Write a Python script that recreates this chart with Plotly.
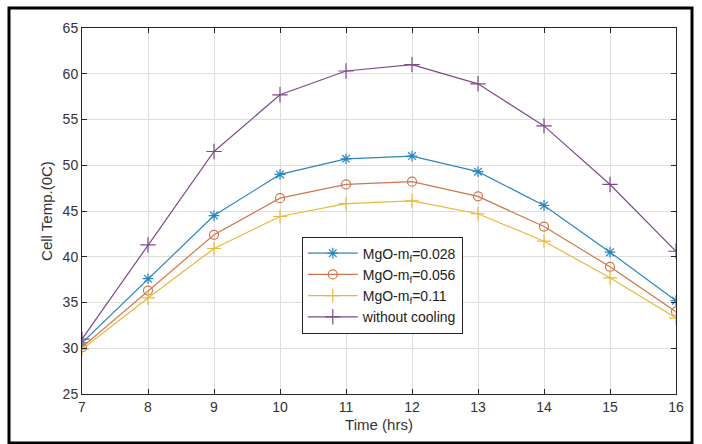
import plotly.graph_objects as go

# Hours of the day
hours = [7, 8, 9, 10, 11, 12, 13, 14, 15, 16]

# Cell temperature (°C) for each case
mgo_0028 = [30.6, 37.6, 44.5, 49.0, 50.7, 51.0, 49.3, 45.6, 40.5, 35.2]
mgo_0056 = [30.1, 36.3, 42.4, 46.4, 47.9, 48.2, 46.6, 43.3, 38.9, 34.0]
mgo_011 = [29.9, 35.5, 40.9, 44.4, 45.8, 46.1, 44.7, 41.7, 37.7, 33.3]
no_cooling = [31.0, 41.3, 51.5, 57.7, 60.3, 61.0, 58.9, 54.3, 47.9, 40.6]

series_names = [
    "MgO-m<sub>f</sub>=0.028",
    "MgO-m<sub>f</sub>=0.056",
    "MgO-m<sub>f</sub>=0.11",
    "without cooling",
]
series_values = [mgo_0028, mgo_0056, mgo_011, no_cooling]
series_colors = ["#2b86c2", "#cf7650", "#e9b939", "#7d4a8c"]
series_symbols = ["asterisk-open", "circle-open", "cross-thin-open", "cross-thin-open"]
series_sizes = [9, 9, 10, 11]

y_ticks = [25, 30, 35, 40, 45, 50, 55, 60, 65]

fig = go.Figure()
for name, vals, col, sym, sz in zip(series_names, series_values, series_colors,
                                    series_symbols, series_sizes):
    fig.add_trace(go.Scatter(
        x=hours, y=vals, name=name, mode="lines+markers",
        line=dict(color=col, width=1.2),
        marker=dict(symbol=sym, size=sz, color=col, line=dict(color=col, width=1.2)),
    ))

axis_font = dict(family="Liberation Sans, Arial, sans-serif", size=14, color="#333333")

fig.update_layout(
    width=702, height=444,
    margin=dict(l=82, r=26, t=28, b=50),
    paper_bgcolor="white", plot_bgcolor="white",
    font=axis_font,
    showlegend=True,
    legend=dict(
        x=0.37, y=0.43, xanchor="left", yanchor="top",
        bgcolor="white", bordercolor="#222222", borderwidth=1,
        font=dict(family="Liberation Sans, Arial, sans-serif", size=14, color="#222222"),
        tracegroupgap=0, itemwidth=50,
    ),
    xaxis=dict(
        range=[7, 16], tickmode="array", tickvals=hours,
        showgrid=True, gridcolor="#dedede", gridwidth=1,
        showline=True, linecolor="#262626", linewidth=1, mirror="ticks",
        ticks="inside", ticklen=5, tickcolor="#262626",
        zeroline=False, tickfont=axis_font,
        title=dict(text="Time (hrs)", font=dict(size=15, color="#333333"), standoff=5),
    ),
    yaxis=dict(
        range=[25, 65], tickmode="array", tickvals=y_ticks,
        showgrid=True, gridcolor="#dedede", gridwidth=1,
        showline=True, linecolor="#262626", linewidth=1, mirror="ticks",
        ticks="inside", ticklen=5, tickcolor="#262626",
        zeroline=False, tickfont=axis_font,
        title=dict(text="Cell Temp.(0C)", font=dict(size=15, color="#333333"), standoff=6),
    ),
    shapes=[
        dict(type="rect", xref="paper", yref="paper",
             x0=(9 - 82) / 594, x1=(692 - 82) / 594,
             y0=(394 - 443) / 366, y1=(394 - 8) / 366,
             line=dict(color="black", width=3), fillcolor="rgba(0,0,0,0)", layer="above"),
    ],
)

fig.write_html("out.html")
